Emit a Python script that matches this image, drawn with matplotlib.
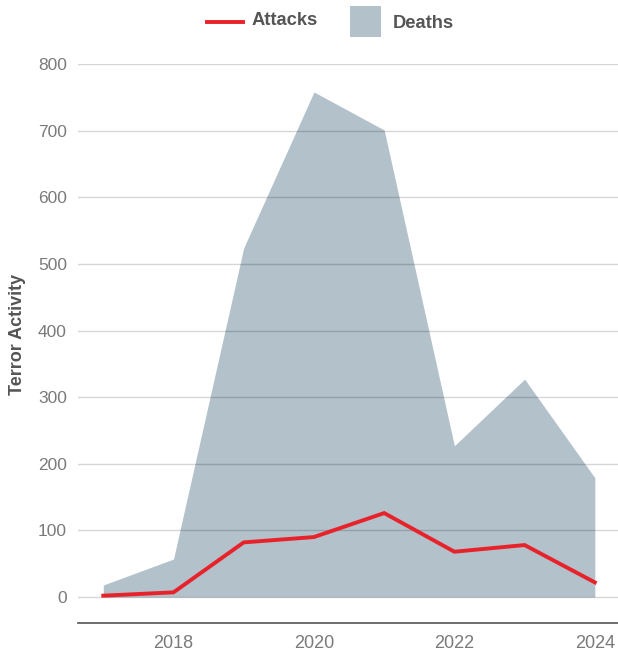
import matplotlib
matplotlib.use("Agg")
import matplotlib.pyplot as plt
from matplotlib.lines import Line2D
from matplotlib.patches import Rectangle

plt.rcParams["font.family"] = ["Liberation Sans", "DejaVu Sans"]

years = [2017, 2018, 2019, 2020, 2021, 2022, 2023, 2024]
deaths = [18, 57, 524, 758, 701, 227, 327, 179]
attacks = [2, 7, 82, 90, 126, 68, 78, 22]
y_ticks = [0, 100, 200, 300, 400, 500, 600, 700, 800]
x_ticks = [2018, 2020, 2022, 2024]

fill_color = "#b2c1ca"
line_color = "#e8222b"
text_color = "#555555"
tick_color = "#7a7a7a"

fig = plt.figure(figsize=(6.18, 6.52), dpi=100)
ax = fig.add_axes([78 / 618, 29 / 652, 540 / 618, 559 / 652])

ax.fill_between(years, deaths, 0, color=fill_color, linewidth=0, zorder=1)
for v in y_ticks:
    ax.axhline(v, color="black", alpha=0.16, linewidth=1.0, zorder=2)
ax.plot(years, attacks, color=line_color, linewidth=2.8,
        solid_joinstyle="miter", zorder=3)

ax.set_xlim(2016.64, 2024.33)
ax.set_ylim(-39, 800)
ax.set_yticks(y_ticks)
ax.set_xticks(x_ticks)
ax.tick_params(axis="y", length=0, pad=8, labelsize=12.5, labelcolor=tick_color)
ax.tick_params(axis="x", length=0, pad=9, labelsize=13, labelcolor=tick_color)

for side in ("top", "right", "left"):
    ax.spines[side].set_visible(False)
ax.spines["bottom"].set_color("#555555")
ax.spines["bottom"].set_linewidth(1.2)

fig.text(18 / 618, 1 - 334 / 652, "Terror Activity", rotation=90,
         ha="center", va="center", fontsize=13, fontweight="bold",
         color=text_color)

# legend drawn in figure pixel coordinates
def fx(px):
    return px / 618

def fy(py):
    return 1 - py / 652

fig.add_artist(Line2D([fx(207), fx(243)], [fy(21.5), fy(21.5)],
                      color=line_color, linewidth=2.8,
                      transform=fig.transFigure))
fig.text(fx(252), fy(20.5), "Attacks", ha="left", va="center",
         fontsize=13.2, fontweight="bold", color=text_color)
fig.add_artist(Rectangle((fx(350), fy(37)), fx(31), 31 / 652,
                         facecolor=fill_color, edgecolor="none",
                         transform=fig.transFigure))
fig.text(fx(393), fy(23.5), "Deaths", ha="left", va="center",
         fontsize=13.2, fontweight="bold", color=text_color)

fig.savefig("out.png", dpi=100)
